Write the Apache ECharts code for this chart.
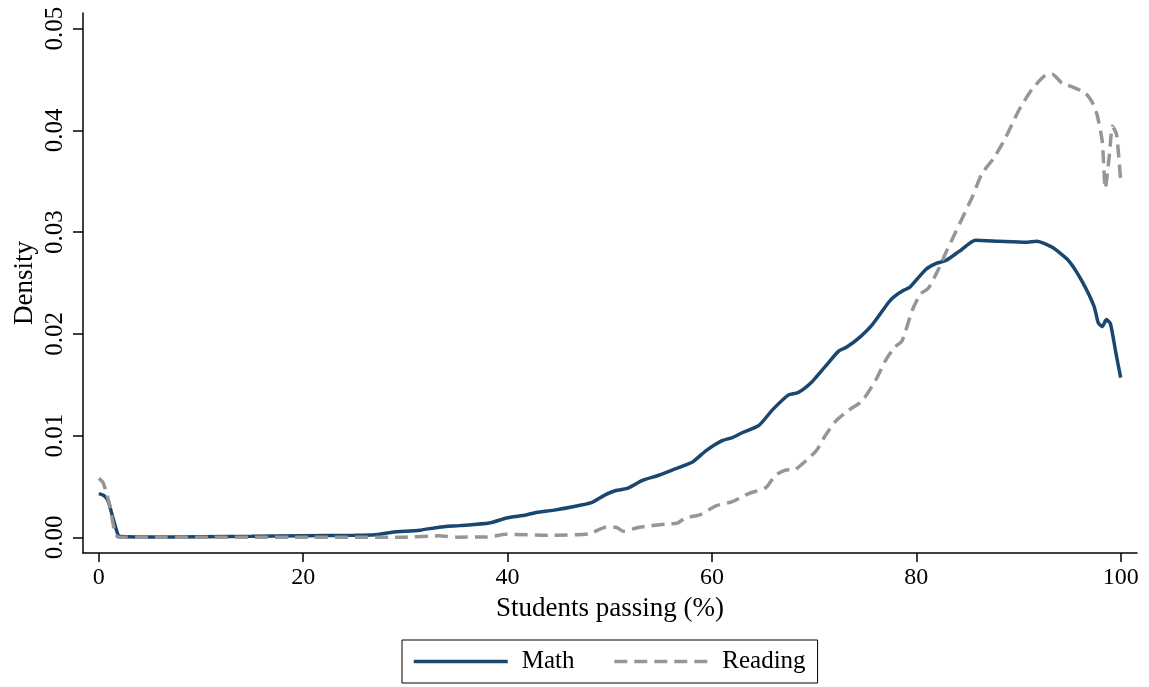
<!DOCTYPE html>
<html lang="en">
<head>
<meta charset="utf-8">
<script src="https://cdn.jsdelivr.net/npm/echarts@6/dist/echarts.min.js"></script>
<style>
  html, body { margin: 0; padding: 0; background: #fff; }
  #main { width: 1149px; height: 687px; }
</style>
</head>
<body>
<div id="main"></div>
<script>
// values
var xTicks = [0, 20, 40, 60, 80, 100];
var yTicks = [0, 0.01, 0.02, 0.03, 0.04, 0.05];

var mathX = [0, 0.5, 0.9, 1.3, 1.7, 2.0, 5, 10, 15, 20, 25, 27, 28.7, 31.4, 33.3, 35.3, 38.2, 39.9, 41.8, 42.8,
  44.7, 46.4, 48.2, 49.6, 50.6, 51.7, 53.2, 54.8, 56.1, 58.1, 59.4, 61.0, 62.0, 63.0, 64.6, 65.9, 67.5, 68.4,
  69.8, 71.1, 72.4, 73.2, 74.4, 75.7, 77.3, 77.9, 78.8, 79.4, 80.9, 81.9, 82.9, 84.2, 85.8, 88.1, 90.7, 91.8,
  93.3, 94.9, 96.2, 97.4, 97.8, 98.2, 98.6, 99.0, 99.5, 100];
var mathY = [0.0043, 0.0041, 0.0036, 0.0022, 0.0008, 0.0001, 0.00003, 0.00006, 0.0001, 0.00015, 0.0002, 0.00025,
  0.0005, 0.0007, 0.0010, 0.00115, 0.0014, 0.0019, 0.0022, 0.00245, 0.0027, 0.0030, 0.0034, 0.0042, 0.0046,
  0.0048, 0.0056, 0.0061, 0.0066, 0.0074, 0.0085, 0.0095, 0.0098, 0.0103, 0.0110, 0.0125, 0.0140, 0.0142,
  0.0153, 0.0168, 0.0183, 0.0187, 0.0196, 0.0209, 0.0231, 0.0237, 0.0243, 0.0246, 0.0263, 0.0269, 0.0272,
  0.0281, 0.0292, 0.0291, 0.0290, 0.0291, 0.0285, 0.0272, 0.0252, 0.0227, 0.0211, 0.0207, 0.0214, 0.0210,
  0.0183, 0.0157];

var readX = [0, 0.4, 0.8, 1.1, 1.5, 1.9, 5, 10, 20, 30, 33.3, 35, 38, 39.9, 44, 48, 49.6, 50.6, 51.3, 52.9,
  55.5, 56.6, 57.4, 58.8, 60.4, 62.0, 63.6, 65.3, 66.2, 67.2, 68.2, 70.2, 71.1, 72.1, 73.4, 74.7, 76.0, 77.0,
  77.9, 78.6, 79.6, 80.4, 81.2, 82.2, 82.9, 83.9, 85.5, 86.4, 87.6, 88.7, 90.0, 91.3, 92.6, 93.3, 94.3, 95.2,
  96.5, 97.2, 97.7, 98.2, 98.5, 98.9, 99.2, 99.6, 100];
var readY = [0.0058, 0.0054, 0.0042, 0.0030, 0.0008, 0.0, 0.0, 0.00002, 0.00002, 0.00002, 0.00015, 0.00002,
  0.00003, 0.0003, 0.0002, 0.00035, 0.001, 0.001, 0.0006, 0.001, 0.0013, 0.0014, 0.0019, 0.0022, 0.0031,
  0.0035, 0.0043, 0.0049, 0.0061, 0.0066, 0.0067, 0.0085, 0.0100, 0.0114, 0.0125, 0.0134, 0.0154, 0.0174,
  0.0187, 0.0193, 0.0223, 0.0239, 0.0245, 0.0264, 0.0280, 0.0301, 0.0335, 0.0357, 0.0373, 0.0392, 0.0419,
  0.0440, 0.0454, 0.0455, 0.0446, 0.0443, 0.0437, 0.0428, 0.0415, 0.0389, 0.0343, 0.0376, 0.0404, 0.0396,
  0.0350];

function zip(xs, ys) {
  var out = [];
  for (var i = 0; i < xs.length; i++) out.push([xs[i], ys[i]]);
  return out;
}

var font = '"Liberation Serif", "Times New Roman", serif';
var chart = echarts.init(document.getElementById('main'));

chart.setOption({
  animation: false,
  grid: { left: 83, top: 13, right: 12, bottom: 134, outerBoundsMode: 'none', containLabel: false },
  legend: {
    left: 402, top: 640,
    padding: [9, 12, 9, 10],
    borderColor: '#000', borderWidth: 1,
    itemWidth: 94, itemHeight: 26, itemGap: 38,
    itemStyle: { opacity: 0 },
    lineStyle: { width: 3.5 },
    textStyle: { fontFamily: font, fontSize: 25, color: '#000', padding: [0, 0, 0, 9] },
    data: ['Math', 'Reading']
  },
  xAxis: {
    type: 'value',
    min: -1.55, max: 101.6,
    name: 'Students passing (%)',
    nameLocation: 'middle', nameGap: 42,
    nameTextStyle: { fontFamily: font, fontSize: 27, color: '#000' },
    splitLine: { show: false },
    axisLine: { onZero: false, lineStyle: { color: '#000', width: 1.5 } },
    axisTick: { show: true, length: 9, customValues: xTicks, lineStyle: { color: '#000', width: 1.5 } },
    axisLabel: { customValues: xTicks, margin: 13, fontFamily: font, fontSize: 24, color: '#000' }
  },
  yAxis: {
    type: 'value',
    min: -0.00154, max: 0.05153,
    name: 'Density',
    nameLocation: 'middle', nameGap: 45, nameMoveOverlap: false,
    nameTextStyle: { fontFamily: font, fontSize: 27, color: '#000' },
    splitLine: { show: false },
    axisLine: { show: true, onZero: false, lineStyle: { color: '#000', width: 1.5 } },
    axisTick: { show: true, length: 10, customValues: yTicks, lineStyle: { color: '#000', width: 1.5 } },
    axisLabel: {
      customValues: yTicks, rotate: 90, margin: 15,
      fontFamily: font, fontSize: 25, color: '#000',
      formatter: function (v) { return v.toFixed(2); }
    }
  },
  series: [
    {
      name: 'Math', type: 'line', data: zip(mathX, mathY),
      symbol: 'none', smooth: 0.2,
      lineStyle: { color: '#1a476f', width: 3.5 },
      itemStyle: { color: '#1a476f' }
    },
    {
      name: 'Reading', type: 'line', data: zip(readX, readY),
      symbol: 'none', smooth: 0.2,
      lineStyle: { color: '#969696', width: 3.5, type: [13, 7] },
      itemStyle: { color: '#969696' }
    }
  ]
});
</script>
</body>
</html>
